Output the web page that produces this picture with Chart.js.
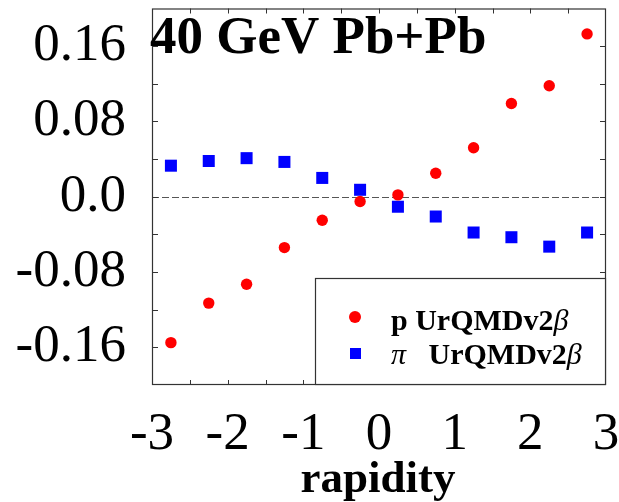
<!DOCTYPE html>
<html><head><meta charset="utf-8">
<script src="https://cdn.jsdelivr.net/npm/chart.js@4"></script>
<style>html,body{margin:0;padding:0;background:#fff;}#wrap{width:619px;height:502px;}</style>
</head><body><div id="wrap"><canvas id="c" width="619" height="502"></canvas></div>
<script>
const rapidity = [-2.75,-2.25,-1.75,-1.25,-0.75,-0.25,0.25,0.75,1.25,1.75,2.25,2.75];
const protonV1 = [-0.155,-0.113,-0.093,-0.054,-0.025,-0.005,0.002,0.025,0.052,0.099,0.118,0.173];
const pionV1 = [0.033,0.038,0.041,0.037,0.020,0.0074,-0.0106,-0.021,-0.038,-0.043,-0.053,-0.038];
const xTickValues = [-3,-2,-1,0,1,2,3];
const xTickLabels = ['-3','-2','-1','0','1','2','3'];
const yTickValues = [-0.16,-0.08,0,0.08,0.16];
const yTickLabels = ['-0.16','-0.08','0.0','0.08','0.16'];
const xMinorStep = 0.5;
const yMinorStep = 0.04;
const titleText = '40 GeV Pb+Pb';
const xAxisLabel = 'rapidity';
const legendProton = [['p UrQMDv2','b'],['β','i']];
const legendPion = [['π','i'],['   UrQMDv2','b'],['β','i']];

const SERIF = '"Liberation Serif", "Times New Roman", serif';

const decor = {
  id: 'decor',
  beforeDatasetsDraw(chart) {
    const {ctx, chartArea: a, scales: {x, y}} = chart;
    ctx.save();
    ctx.strokeStyle = '#555';
    ctx.lineWidth = 1;
    ctx.setLineDash([7, 3]);
    const y0 = Math.round(y.getPixelForValue(0)) + 0.5;
    ctx.beginPath(); ctx.moveTo(a.left, y0); ctx.lineTo(a.right, y0); ctx.stroke();
    ctx.restore();
  },
  afterDraw(chart) {
    const {ctx, chartArea: a, scales: {x, y}} = chart;
    ctx.save();
    ctx.strokeStyle = '#333';
    ctx.lineWidth = 1.2;
    ctx.strokeRect(a.left + 0.5, a.top + 0.5, a.right - a.left - 1, a.bottom - a.top - 1);
    ctx.lineWidth = 1;
    ctx.beginPath();
    for (let v = x.min + xMinorStep; v < x.max - 1e-9; v += xMinorStep) {
      const px = Math.round(x.getPixelForValue(v)) + 0.5;
      ctx.moveTo(px, a.bottom); ctx.lineTo(px, a.bottom - 5);
      ctx.moveTo(px, a.top); ctx.lineTo(px, a.top + 5);
    }
    for (let v = y.min + yMinorStep; v < y.max - 1e-9; v += yMinorStep) {
      const py = Math.round(y.getPixelForValue(v)) + 0.5;
      ctx.moveTo(a.left, py); ctx.lineTo(a.left + 6, py);
      ctx.moveTo(a.right, py); ctx.lineTo(a.right - 6, py);
    }
    ctx.stroke();
    ctx.fillStyle = '#000';
    ctx.font = 'bold 53px ' + SERIF;
    ctx.textBaseline = 'alphabetic';
    ctx.textAlign = 'left';
    ctx.fillText(titleText, a.left - 2, 53);
    ctx.font = 'bold 45px ' + SERIF;
    ctx.textAlign = 'center';
    ctx.fillText(xAxisLabel, 378, 492);
    const lx = 315, ly = 278;
    ctx.fillStyle = '#fff';
    ctx.fillRect(lx, ly, a.right - lx, a.bottom - ly);
    ctx.strokeStyle = '#333';
    ctx.lineWidth = 1.2;
    ctx.strokeRect(lx + 0.5, ly + 0.5, a.right - lx - 1, a.bottom - ly - 1);
    ctx.fillStyle = '#ff0000';
    ctx.beginPath(); ctx.arc(355, 317, 6, 0, Math.PI * 2); ctx.fill();
    ctx.fillStyle = '#0000ff';
    ctx.fillRect(350, 348, 11, 11);
    ctx.fillStyle = '#000';
    ctx.textAlign = 'left';
    const drawRich = (parts, x0, yb) => {
      let xx = x0;
      for (const [t, s] of parts) {
        ctx.font = (s === 'b' ? 'bold ' : 'italic ') + '30px ' + SERIF;
        ctx.fillText(t, xx, yb);
        xx += ctx.measureText(t).width;
      }
    };
    drawRich(legendProton, 391, 330);
    drawRich(legendPion, 391, 364);
    ctx.restore();
  }
};

new Chart(document.getElementById('c'), {
  type: 'scatter',
  data: {
    datasets: [
      { label: 'p UrQMDv2β', data: rapidity.map((r, i) => ({x: r, y: protonV1[i]})),
        pointStyle: 'circle', pointRadius: 5.7, backgroundColor: '#ff0000', borderColor: '#ff0000', borderWidth: 0, clip: false },
      { label: 'π UrQMDv2β', data: rapidity.map((r, i) => ({x: r, y: pionV1[i]})),
        pointStyle: 'rect', pointRadius: 8.5, backgroundColor: '#0000ff', borderColor: '#0000ff', borderWidth: 0, clip: false }
    ]
  },
  options: {
    responsive: false,
    animation: false,
    events: [],
    layout: { padding: { left: 0, right: 13, top: 7, bottom: 0 } },
    plugins: { legend: { display: false }, tooltip: { enabled: false }, title: { display: false } },
    scales: {
      x: {
        type: 'linear', min: -3, max: 3,
        grid: { display: false, drawTicks: false }, border: { display: false },
        afterBuildTicks: s => { s.ticks = xTickValues.map(v => ({value: v})); },
        afterFit: s => { s.height = 117; s.paddingLeft = 0; s.paddingRight = 0; },
        ticks: {
          padding: 18, color: '#000', maxRotation: 0, autoSkip: false,
          font: { family: SERIF, size: 53 },
          callback: v => xTickLabels[xTickValues.indexOf(v)]
        }
      },
      y: {
        type: 'linear', min: -0.2, max: 0.2,
        grid: { display: false, drawTicks: false }, border: { display: false },
        afterBuildTicks: s => { s.ticks = yTickValues.map(v => ({value: v})); },
        afterFit: s => { s.width = 152; s.paddingTop = 0; s.paddingBottom = 0; },
        ticks: {
          padding: 26, color: '#000', autoSkip: false,
          font: { family: SERIF, size: 53 },
          callback: v => yTickLabels[yTickValues.indexOf(v)]
        }
      }
    }
  },
  plugins: [decor]
});
</script></body></html>
